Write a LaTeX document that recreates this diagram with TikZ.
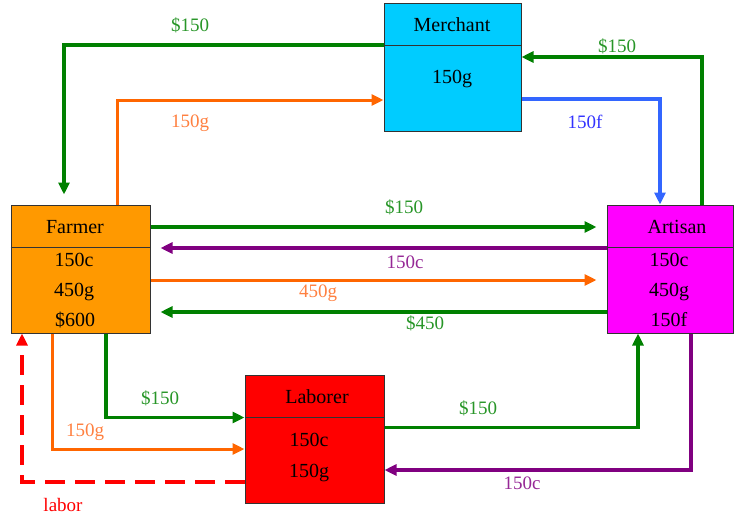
\documentclass[tikz,border=0pt]{standalone}
\usepackage{fontspec}
\setmainfont{Liberation Serif}
\usetikzlibrary{calc}
\usetikzlibrary{arrows.meta}
\usepackage{xcolor}

\definecolor{merchcol}{RGB}{0,204,255}
\definecolor{farmcol}{RGB}{255,153,0}
\definecolor{artcol}{RGB}{255,0,255}
\definecolor{labcol}{RGB}{255,0,0}
\definecolor{cashcol}{RGB}{0,128,0}
\definecolor{goldcol}{RGB}{255,102,0}
\definecolor{clothcol}{RGB}{128,0,128}
\definecolor{furncol}{RGB}{51,102,255}
\definecolor{cashtxt}{RGB}{40,150,40}
\definecolor{goldtxt}{RGB}{255,128,64}
\definecolor{clothtxt}{RGB}{150,40,150}
\definecolor{furntxt}{RGB}{51,51,255}

\begin{document}
\begin{tikzpicture}[x=1pt, y=-1pt,
  box/.style={draw=black!80, line width=1pt, inner sep=0pt},
  txt/.style={font=\fontsize{20}{24}\selectfont, inner sep=0pt},
  lbl/.style={font=\fontsize{19}{23}\selectfont, inner sep=0pt},
  flow/.style={line width=3.5pt, -{Triangle[length=12pt 0 0,width=11pt 0 0]}}]
\useasboundingbox (0,0) rectangle (735,517);

% the four boxes
\node[box, fill=merchcol, minimum width=137pt, minimum height=128pt] (merchant) at (452.5,67) {};
\node[box, fill=farmcol, minimum width=139pt, minimum height=128pt] (farmer) at (80.5,269) {};
\node[box, fill=artcol, minimum width=126pt, minimum height=128pt] (artisan) at (670,269) {};
\node[box, fill=labcol, minimum width=139pt, minimum height=128pt] (laborer) at (314.5,439) {};
\foreach \n in {merchant,farmer,artisan,laborer} {
  \draw[black!80, line width=1pt] ([yshift=-43pt]\n.north west) -- ([yshift=-43pt]\n.north east);
}

\node[txt] (mtitle) at (452,25) {Merchant};
\node[txt] (mgold) at (452,79) {150g};
\node[txt] (ftitle) at (75,227) {Farmer};
\node[txt] (fcloth) at (74,260) {150c};
\node[txt] (fgold) at (74,292) {450g};
\node[txt] (fcash) at (75,320) {\$600};
\node[txt] (atitle) at (677,227) {Artisan};
\node[txt] (acloth) at (669,260) {150c};
\node[txt] (agold) at (669,292) {450g};
\node[txt] (afurn) at (669,320) {150f};
\node[txt] (ltitle) at (317,397) {Laborer};
\node[txt] (lcloth) at (309,440) {150c};
\node[txt] (lgold) at (309,473) {150g};

% flows round the merchant
\draw[flow, cashcol] ([yshift=22pt]merchant.west) -| ([xshift=-16.5pt,yshift=10pt]farmer.north);
\draw[flow, goldcol, line width=3pt] ([xshift=36.5pt]farmer.north) |- ([yshift=-33pt]merchant.west);
\draw[flow, cashcol] ([xshift=32pt]artisan.north) |- ([yshift=10pt]merchant.east);
\draw[flow, furncol] ([yshift=-32pt]merchant.east) -| ([xshift=-10pt]artisan.north);

% farmer and artisan
\draw[flow, cashcol] ([yshift=42pt]farmer.east) -- ([xshift=-10pt,yshift=42pt]artisan.west);
\draw[flow, clothcol] ([yshift=21pt]artisan.west) -- ([xshift=10pt,yshift=21pt]farmer.east);
\draw[flow, goldcol, line width=3pt] ([yshift=-11pt]farmer.east) -- ([xshift=-10pt,yshift=-11pt]artisan.west);
\draw[flow, cashcol] ([yshift=-43pt]artisan.west) -- ([xshift=10pt,yshift=-43pt]farmer.east);

% flows round the laborer
\draw[flow, cashcol] ([xshift=25.5pt]farmer.south) |- ([yshift=21.5pt]laborer.west);
\draw[flow, goldcol, line width=3pt] ([xshift=-28.5pt]farmer.south) |- ([yshift=-10pt]laborer.west);
\draw[flow, labcol, dash pattern=on 20pt off 10pt] ([yshift=-43pt]laborer.west) -| ([xshift=-58.5pt]farmer.south);
\draw[flow, cashcol] ([yshift=11.5pt]laborer.east) -| ([xshift=-32pt]artisan.south);
\draw[flow, clothcol] ([xshift=21pt]artisan.south) |- ([yshift=-31pt]laborer.east);

% labels
\node[lbl, text=cashtxt] (l1) at (190,25) {\$150};
\node[lbl, text=goldtxt] (l2) at (190,123) {150g};
\node[lbl, text=cashtxt] (l3) at (617,46) {\$150};
\node[lbl, text=furntxt] (l4) at (585,122) {150f};
\node[lbl, text=cashtxt] (l5) at (404,207) {\$150};
\node[lbl, text=clothtxt] (l6) at (405,262) {150c};
\node[lbl, text=goldtxt] (l7) at (318,293) {450g};
\node[lbl, text=cashtxt] (l8) at (425,323) {\$450};
\node[lbl, text=cashtxt] (l9) at (160,398) {\$150};
\node[lbl, text=goldtxt] (l10) at (85,432) {150g};
\node[lbl, text=labcol] (l11) at (63,505) {labor};
\node[lbl, text=cashtxt] (l12) at (478,408) {\$150};
\node[lbl, text=clothtxt] (l13) at (522,483) {150c};
\end{tikzpicture}
\end{document}
